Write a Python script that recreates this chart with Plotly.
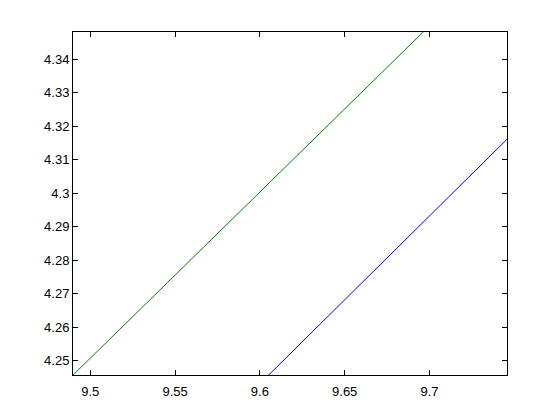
import plotly.graph_objects as go

# Data
green_x = [9.48, 9.51, 9.54, 9.57, 9.60, 9.64, 9.68, 9.71]
green_y = [4.2408, 4.2557, 4.2706, 4.2855, 4.3004, 4.3202, 4.3401, 4.3550]
blue_x = [9.60, 9.625, 9.655, 9.685, 9.72, 9.75]
blue_y = [4.2431, 4.2556, 4.2706, 4.2857, 4.3032, 4.3183]

x_ticks = [9.5, 9.55, 9.6, 9.65, 9.7]
x_labels = ["9.5", "9.55", "9.6", "9.65", "9.7"]
y_ticks = [4.25, 4.26, 4.27, 4.28, 4.29, 4.30, 4.31, 4.32, 4.33, 4.34]
y_labels = ["4.25", "4.26", "4.27", "4.28", "4.29", "4.3", "4.31", "4.32", "4.33", "4.34"]

x_range = [9.4898, 9.7457]
y_range = [4.2457, 4.3482]

fig = go.Figure()
fig.add_trace(go.Scatter(x=green_x, y=green_y, mode="lines",
                         line=dict(color="#008000", width=1), showlegend=False))
fig.add_trace(go.Scatter(x=blue_x, y=blue_y, mode="lines",
                         line=dict(color="#0000ff", width=1), showlegend=False))

axis_common = dict(showgrid=False, zeroline=False, showline=True, linecolor="black",
                   linewidth=1, mirror="ticks", ticks="inside", ticklen=5,
                   tickcolor="black", tickfont=dict(family="Liberation Sans, Arial", size=13, color="black"))

fig.update_layout(
    width=552, height=412,
    margin=dict(l=65, r=53, t=24, b=45),
    paper_bgcolor="white", plot_bgcolor="white",
    xaxis=dict(range=x_range, tickvals=x_ticks, ticktext=x_labels, ticklabelstandoff=4, **axis_common),
    yaxis=dict(range=y_range, tickvals=y_ticks, ticktext=y_labels, **axis_common),
)

fig.write_html("out.html")
